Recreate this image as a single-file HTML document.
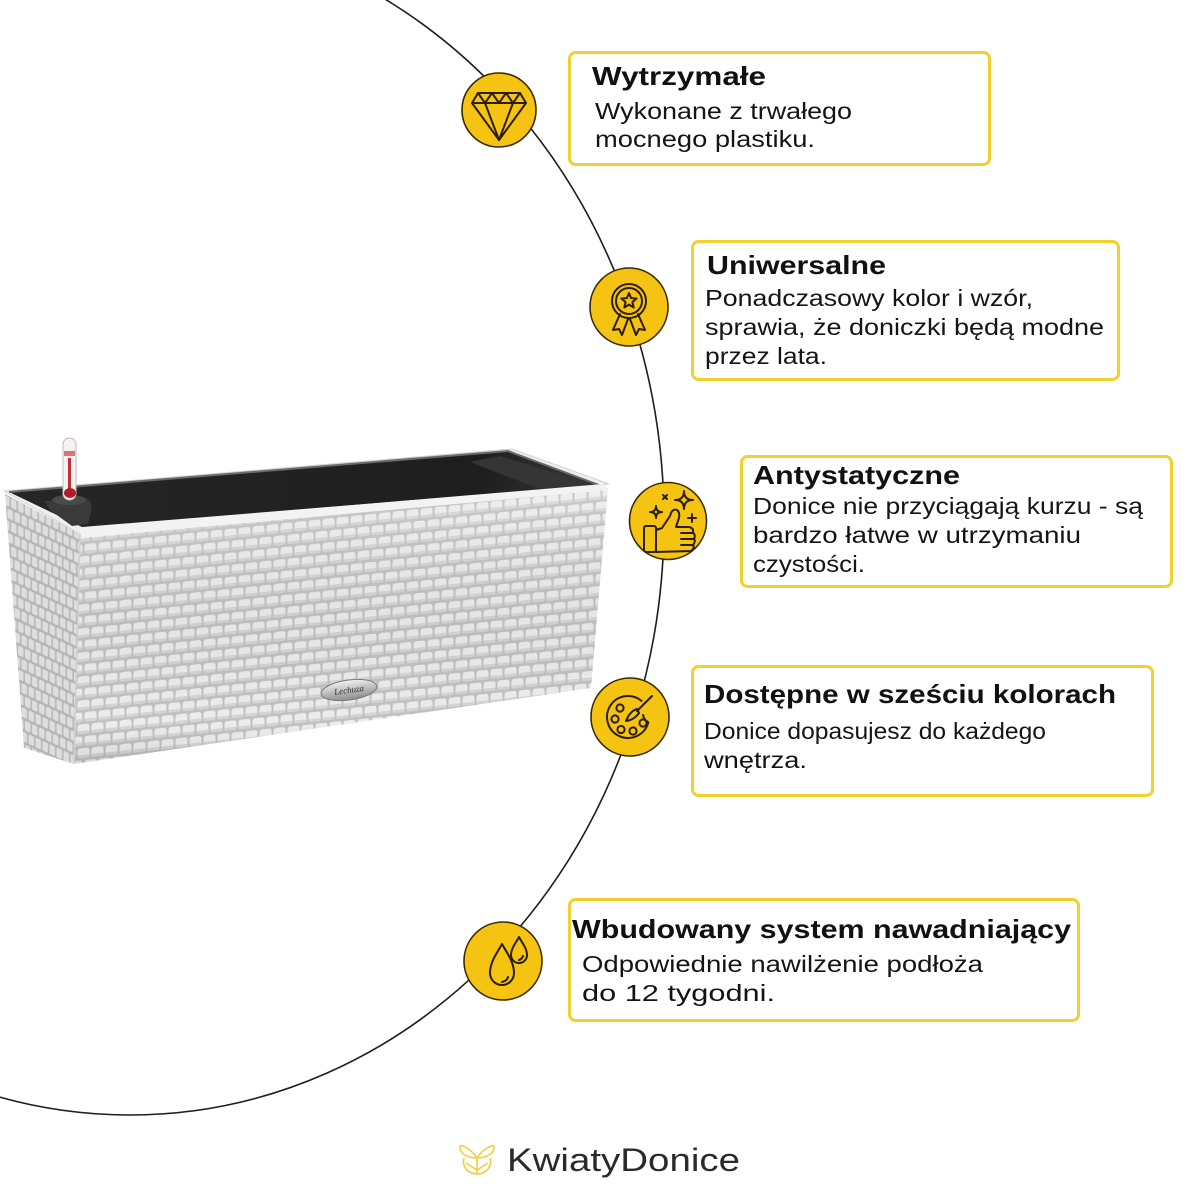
<!DOCTYPE html>
<html>
<head>
<meta charset="utf-8">
<style>
  html,body{margin:0;padding:0;background:#fff;}
  svg{display:block;}
  .t{font-family:"Liberation Sans","DejaVu Sans",sans-serif;font-weight:bold;font-size:26px;fill:#111;}
  .b{font-family:"Liberation Sans","DejaVu Sans",sans-serif;font-size:23.5px;fill:#141414;}
  .ic{fill:none;stroke:#2b1f00;stroke-width:2;stroke-linejoin:round;stroke-linecap:round;}
</style>
</head>
<body>
<svg width="1200" height="1200" viewBox="0 0 1200 1200" xmlns="http://www.w3.org/2000/svg">
  <defs>
    <pattern id="weave" width="14" height="24" patternUnits="userSpaceOnUse" patternTransform="skewY(-6)">
      <rect width="14" height="24" fill="#c2c2c2"/>
      <rect x="0.5" y="1" width="12" height="9.5" rx="2.5" fill="#ededed"/>
      <rect x="0.5" y="7.5" width="12" height="3" rx="1.5" fill="#d6d6d6"/>
      <rect x="-6.5" y="13" width="12" height="9.5" rx="2.5" fill="#ededed"/>
      <rect x="7.5" y="13" width="12" height="9.5" rx="2.5" fill="#ededed"/>
      <rect x="-6.5" y="19.5" width="12" height="3" rx="1.5" fill="#d6d6d6"/>
      <rect x="7.5" y="19.5" width="12" height="3" rx="1.5" fill="#d6d6d6"/>
    </pattern>
    <pattern id="weave2" width="7" height="24" patternUnits="userSpaceOnUse" patternTransform="skewY(25)">
      <rect width="7" height="24" fill="#bdbdbd"/>
      <rect x="0.5" y="1" width="5.5" height="9.5" rx="1.5" fill="#e6e6e6"/>
      <rect x="-3" y="13" width="5.5" height="9.5" rx="1.5" fill="#e6e6e6"/>
      <rect x="4" y="13" width="5.5" height="9.5" rx="1.5" fill="#e6e6e6"/>
    </pattern>
    <linearGradient id="inner" x1="0" y1="0" x2="1" y2="0">
      <stop offset="0" stop-color="#262626"/>
      <stop offset="0.8" stop-color="#1e1e1e"/>
      <stop offset="1" stop-color="#3a3a3a"/>
    </linearGradient>
    <linearGradient id="shade" x1="0" y1="0" x2="0" y2="1">
      <stop offset="0" stop-color="#ffffff" stop-opacity="0.15"/>
      <stop offset="0.85" stop-color="#000000" stop-opacity="0"/>
      <stop offset="1" stop-color="#000000" stop-opacity="0.08"/>
    </linearGradient>
    <linearGradient id="silver" x1="0" y1="0" x2="0" y2="1">
      <stop offset="0" stop-color="#f4f4f4"/>
      <stop offset="0.5" stop-color="#bdbdbd"/>
      <stop offset="1" stop-color="#8e8e8e"/>
    </linearGradient>
  </defs>

  <!-- big arc -->
  <ellipse cx="130" cy="521" rx="534" ry="594" fill="none" stroke="#1e1e1e" stroke-width="1.6"/>

  <!-- planter -->
  <!-- rim -->
  <polygon points="4,491 512,449 609,484 80,534" fill="#efefef" stroke="#d2d2d2" stroke-width="1"/>
  <!-- interior -->
  <polygon points="9,492 508,451 599,485 82,527" fill="url(#inner)"/>
  <polyline points="9,492 508,451 599,485" fill="none" stroke="#6a6a6a" stroke-width="2"/>
  <polygon points="500,456 594,485 540,489 470,462" fill="#353535"/>
  <!-- indicator housing -->
  <path d="M44,501 L86,498 Q93,502 91,512 L88,524 L72,526 L50,510 Z" fill="#3a3a3a"/>
  <ellipse cx="69" cy="500" rx="17" ry="5" fill="#4a4a4a"/>
  <!-- tube -->
  <rect x="63" y="438" width="13" height="62" rx="6.5" fill="#f7f2f2" stroke="#c9b9b9" stroke-width="1"/>
  <rect x="64" y="451" width="11" height="5" fill="#d9727a"/>
  <rect x="68" y="458" width="3" height="32" fill="#c0303a"/>
  <ellipse cx="70" cy="493" rx="6" ry="5" fill="#b01c2a"/>
  <!-- left side face -->
  <polygon points="5,494 80,534 74,764 24,748" fill="url(#weave2)"/>
  <polygon points="5,494 80,534 74,764 24,748" fill="#000" opacity="0.03"/>
  <!-- front face -->
  <polygon points="80,534 608,488 591,688 74,764" fill="url(#weave)"/>
  <polygon points="80,534 608,488 591,688 74,764" fill="url(#shade)"/>
  <!-- front rim band -->
  <polygon points="80,528 603,484 609,490 80,538" fill="#f3f3f3"/>
  <line x1="80" y1="534" x2="74" y2="764" stroke="#cfcfcf" stroke-width="1.5"/>
  <!-- badge -->
  <g transform="rotate(-8 349 690)">
    <ellipse cx="349" cy="690" rx="28" ry="10" fill="url(#silver)" stroke="#7a7a7a" stroke-width="1"/>
    <text x="349" y="693" text-anchor="middle" font-family="Liberation Serif, serif" font-style="italic" font-size="9" fill="#333">Lechuza</text>
  </g>

  <!-- boxes -->
  <g fill="#fff" stroke="#f2d12e" stroke-width="3">
    <rect x="569.5" y="52.5" width="420" height="112" rx="6"/>
    <rect x="692.5" y="241.5" width="426" height="138" rx="6"/>
    <rect x="741.5" y="456.5" width="430" height="130" rx="6"/>
    <rect x="692.5" y="666.5" width="460" height="129" rx="6"/>
    <rect x="569.5" y="899.5" width="509" height="121" rx="6"/>
  </g>

  <!-- box text -->
  <text class="t" x="592" y="85" textLength="174" lengthAdjust="spacingAndGlyphs">Wytrzymałe</text>
  <text class="b" x="595" y="119" textLength="257" lengthAdjust="spacingAndGlyphs">Wykonane z trwałego</text>
  <text class="b" x="595" y="147" textLength="220" lengthAdjust="spacingAndGlyphs">mocnego plastiku.</text>

  <text class="t" x="707" y="274" textLength="179" lengthAdjust="spacingAndGlyphs">Uniwersalne</text>
  <text class="b" x="705" y="306" textLength="328" lengthAdjust="spacingAndGlyphs">Ponadczasowy kolor i wzór,</text>
  <text class="b" x="705" y="335" textLength="399" lengthAdjust="spacingAndGlyphs">sprawia, że doniczki będą modne</text>
  <text class="b" x="705" y="364" textLength="122" lengthAdjust="spacingAndGlyphs">przez lata.</text>

  <text class="t" x="753" y="484" textLength="207" lengthAdjust="spacingAndGlyphs">Antystatyczne</text>
  <text class="b" x="753" y="514" textLength="390" lengthAdjust="spacingAndGlyphs">Donice nie przyciągają kurzu - są</text>
  <text class="b" x="753" y="543" textLength="328" lengthAdjust="spacingAndGlyphs">bardzo łatwe w utrzymaniu</text>
  <text class="b" x="753" y="572" textLength="112" lengthAdjust="spacingAndGlyphs">czystości.</text>

  <text class="t" x="704" y="703" textLength="412" lengthAdjust="spacingAndGlyphs">Dostępne w sześciu kolorach</text>
  <text class="b" x="704" y="739" textLength="342" lengthAdjust="spacingAndGlyphs">Donice dopasujesz do każdego</text>
  <text class="b" x="704" y="768" textLength="103" lengthAdjust="spacingAndGlyphs">wnętrza.</text>

  <text class="t" x="572" y="938" textLength="499" lengthAdjust="spacingAndGlyphs">Wbudowany system nawadniający</text>
  <text class="b" x="582" y="972" textLength="401" lengthAdjust="spacingAndGlyphs">Odpowiednie nawilżenie podłoża</text>
  <text class="b" x="582" y="1001" textLength="193" lengthAdjust="spacingAndGlyphs">do 12 tygodni.</text>

  <!-- icon circles -->
  <g fill="#f5c312" stroke="#3a2a00" stroke-width="1.6">
    <circle cx="499" cy="110" r="37"/>
    <circle cx="629" cy="307" r="39"/>
    <circle cx="668" cy="521" r="38.5"/>
    <circle cx="630" cy="717" r="39"/>
    <circle cx="503" cy="961" r="39"/>
  </g>

  <!-- diamond -->
  <g class="ic">
    <polygon points="478,93 520,93 526,103 499,140 472,103"/>
    <line x1="472" y1="103" x2="526" y2="103"/>
    <polyline points="478,93 485,103 492,93 499,103 506,93 513,103 520,93"/>
    <line x1="485" y1="103" x2="499" y2="140"/>
    <line x1="513" y1="103" x2="499" y2="140"/>
  </g>

  <!-- award -->
  <g class="ic">
    <circle cx="629" cy="301" r="17"/>
    <circle cx="629" cy="301" r="13"/>
    <polygon points="629,293 631.1,298.1 636.6,298.5 632.4,302.1 633.7,307.5 629,304.6 624.3,307.5 625.6,302.1 621.4,298.5 626.9,298.1"/>
    <polyline points="620,314 613,330 619,329 622,335 628,319"/>
    <polyline points="638,314 645,330 639,329 636,335 630,319"/>
  </g>

  <!-- thumbs up -->
  <g class="ic">
    <rect x="644" y="526" width="12" height="26" rx="2"/>
    <path d="M656,530 L662,528 L670,516 Q672,508 677,510 Q680,512 679,518 L676,527 L689,527 Q694,528 693,533 Q696,535 694,539 Q696,541 693,545 Q695,548 691,551 L656,552 Z"/>
    <path d="M681,533 L693,533 M681,539 L694,539 M681,545 L693,545"/>
    <path d="M684,491 Q684,500 693,500 Q684,500 684,509 Q684,500 675,500 Q684,500 684,491 Z"/>
    <path d="M656,506 Q656,512 662,512 Q656,512 656,518 Q656,512 650,512 Q656,512 656,506 Z"/>
    <path d="M692,514 L692,522 M688,518 L696,518"/>
    <path d="M663,495 L667,499 M667,495 L663,499"/>
  </g>

  <!-- palette -->
  <g class="ic">
    <path d="M641.5,700.9 A21,21 0 1 0 648.3,722.4 Q644,720 643,715"/>
    <circle cx="620" cy="708" r="3.6"/>
    <circle cx="615" cy="719" r="3.6"/>
    <circle cx="621" cy="729.5" r="3.6"/>
    <circle cx="633" cy="731" r="3.6"/>
    <circle cx="643" cy="723" r="3.6"/>
    <line x1="652" y1="696" x2="637" y2="711"/>
    <path d="M637,709 Q630,711 626,721 Q634,720 639,713 Z"/>
  </g>

  <!-- drops -->
  <g class="ic">
    <path d="M502,944 C497,953 490,962 490,973 A12,12 0 0 0 514,973 C514,962 507,953 502,944 Z"/>
    <path d="M519,937 C516,943 511,948 511,955 A8,8 0 0 0 527,955 C527,948 522,943 519,937 Z"/>
    <path d="M508,977 Q507,981 502,982"/>
    <path d="M523,956 Q522,959 519,960"/>
  </g>

  <!-- logo -->
  <g fill="none" stroke="#f0cf3a" stroke-width="1.6" stroke-linejoin="round">
    <path d="M477,1158 C471,1149 463,1145 460,1146 C459,1153 467,1158 477,1158 Z"/>
    <path d="M477,1158 C483,1149 491,1145 494,1146 C495,1153 487,1158 477,1158 Z"/>
    <path d="M464,1158 C461,1168 470,1174 477,1174 C484,1174 493,1168 490,1158"/>
    <path d="M477,1158 L477,1174 M466,1163 L477,1170 M488,1163 L477,1170"/>
  </g>
  <text x="507" y="1171" textLength="233" lengthAdjust="spacingAndGlyphs" font-family="Liberation Sans, DejaVu Sans, sans-serif" font-size="32" fill="#2a2a2a">KwiatyDonice</text>
</svg>
</body>
</html>
